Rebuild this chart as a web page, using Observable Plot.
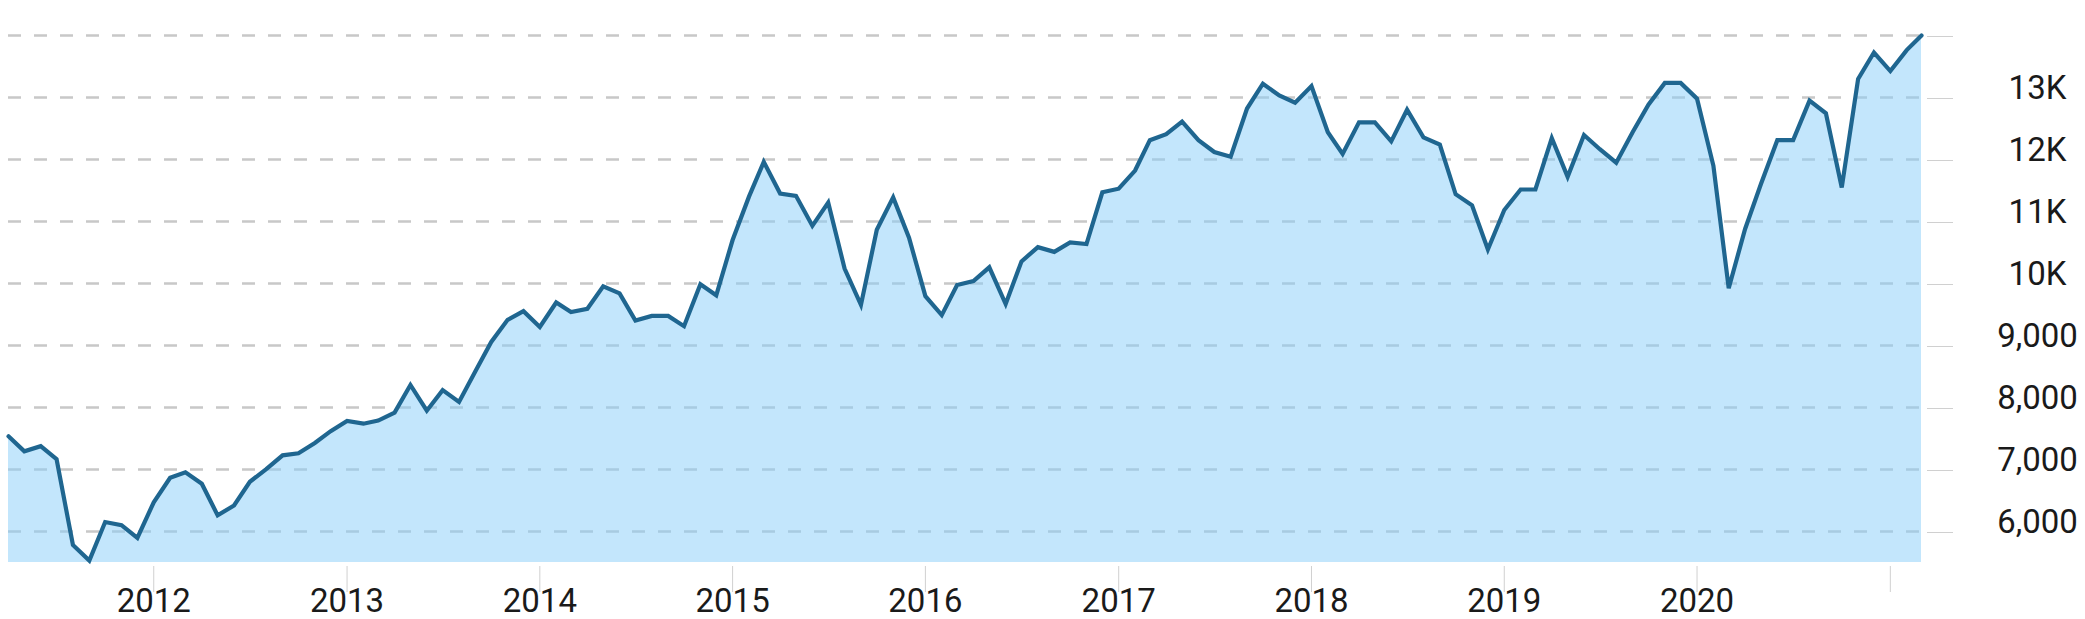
<!DOCTYPE html>
<html>
<head>
<meta charset="utf-8">
<script src="https://cdn.jsdelivr.net/npm/d3@7"></script>
<script src="https://cdn.jsdelivr.net/npm/@observablehq/plot@0.6"></script>
<style>
  html, body { margin: 0; padding: 0; background: #fff; }
  #chart svg { display: block; }
</style>
</head>
<body>
<div id="chart"></div>
<script>
// Monthly series, first month April 2011, last month March 2021
const startMonth = "2011-04-01";
const endMonth = "2021-03-01";
const values2011 = [7535, 7293, 7376, 7166, 5783, 5530, 6153, 6102, 5898];
const values2012 = [6471, 6866, 6955, 6771, 6261, 6420, 6803, 7006, 7229, 7261, 7427, 7618];
const values2013 = [7783, 7739, 7790, 7917, 8363, 7949, 8280, 8089, 8586, 9057, 9414, 9554];
const values2014 = [9299, 9694, 9541, 9592, 9955, 9841, 9401, 9478, 9478, 9312, 9987, 9809];
const values2015 = [10701, 11401, 11962, 11452, 11414, 10930, 11306, 10242, 9656, 10866, 11389, 10739];
const values2016 = [9796, 9490, 9975, 10038, 10261, 9669, 10357, 10586, 10510, 10662, 10637, 11471];
const values2017 = [11529, 11822, 12312, 12408, 12611, 12312, 12121, 12045, 12822, 13223, 13032, 12917];
const values2018 = [13185, 12439, 12089, 12599, 12599, 12293, 12803, 12357, 12242, 11439, 11261, 10548];
const values2019 = [11185, 11516, 11516, 12344, 11720, 12395, 12166, 11949, 12439, 12885, 13236, 13236];
const values2020 = [12981, 11898, 9924, 10879, 11605, 12312, 12312, 12949, 12745, 11548, 13299, 13726];
const values2021 = [13427, 13764, 14000];

const yTicks = [6000, 7000, 8000, 9000, 10000, 11000, 12000, 13000, 14000];
const yTickLabels = ["6,000", "7,000", "8,000", "9,000", "10K", "11K", "12K", "13K", ""];
const xTickYears = ["2012", "2013", "2014", "2015", "2016", "2017", "2018", "2019", "2020", "2021"];
const xTickLabels = ["2012", "2013", "2014", "2015", "2016", "2017", "2018", "2019", "2020", ""];
const yDomain = [5500, 14000];

const allValues = [].concat(values2011, values2012, values2013, values2014, values2015,
  values2016, values2017, values2018, values2019, values2020, values2021);
const months = d3.utcMonth.range(new Date(startMonth), d3.utcMonth.offset(new Date(endMonth), 1));
const data = allValues.map((v, i) => ({date: months[i], value: v}));
const xTicks = xTickYears.map(y => new Date(y + "-01-01"));

const chart = Plot.plot({
  width: 2085,
  height: 619,
  marginLeft: 8,
  marginRight: 164,
  marginTop: 35,
  marginBottom: 57,
  style: {fontFamily: "Roboto, sans-serif", fontSize: "33px", color: "#1a1a1a", background: "#fff"},
  x: {type: "utc", domain: [new Date(startMonth), new Date(endMonth)], axis: null},
  y: {domain: yDomain, axis: null},
  marks: [
    Plot.ruleY(yTicks, {stroke: "#c8c8c8", strokeWidth: 2.5, strokeDasharray: "13,13"}),
    Plot.areaY(data, {x: "date", y1: yDomain[0], y2: "value", fill: "#87cefa", fillOpacity: 0.5}),
    Plot.lineY(data, {x: "date", y: "value", stroke: "#1f6690", strokeWidth: 4.2, strokeLinejoin: "miter", strokeMiterlimit: 4}),
    Plot.axisX({
      anchor: "bottom", ticks: xTicks,
      tickFormat: null, text: null,
      tickSize: 26, dy: 4,
      stroke: "#d0d0d0", fill: "none", label: null
    }),
    Plot.axisX({
      anchor: "bottom", ticks: xTicks,
      tickFormat: (d, i) => xTickLabels[i],
      tickSize: 0, tickPadding: 0, lineAnchor: "bottom", dy: 49,
      stroke: "none", fill: "#1a1a1a", fontSize: 33, label: null
    }),
    Plot.axisY({
      anchor: "right", ticks: yTicks,
      tickFormat: (d, i) => yTickLabels[i],
      tickSize: 26, tickPadding: 85, dx: 5,
      textAnchor: "middle", lineAnchor: "bottom", dy: 1,
      stroke: "#d0d0d0", fill: "#1a1a1a", fontSize: 33, label: null
    })
  ]
});
document.getElementById("chart").appendChild(chart);
</script>
</body>
</html>
